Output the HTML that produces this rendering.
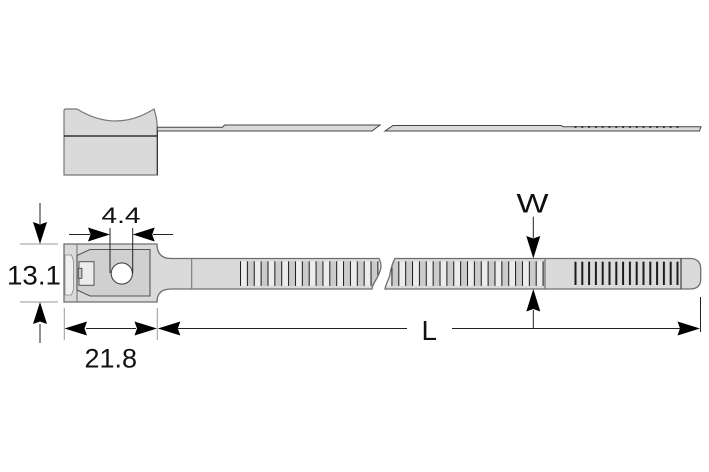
<!DOCTYPE html>
<html><head><meta charset="utf-8"><style>
html,body{margin:0;padding:0;background:#fff;}
svg{display:block;}
text{font-family:"Liberation Sans",Arial,sans-serif;fill:#111;}
</style></head><body>
<svg width="709" height="472" viewBox="0 0 709 472" xmlns="http://www.w3.org/2000/svg">
<defs>
  <pattern id="teethL" patternUnits="userSpaceOnUse" x="240" y="0" width="13.74" height="472">
    <rect x="0" y="0" width="6.87" height="472" fill="#ececec"/>
    <rect x="6.87" y="0" width="6.87" height="472" fill="#cbcbcb"/>
    <rect x="0" y="0" width="1" height="472" fill="#1a1a1a"/>
    <rect x="6.87" y="0" width="1" height="472" fill="#1a1a1a"/>
  </pattern>
  <pattern id="teethR" patternUnits="userSpaceOnUse" x="398.3" y="0" width="13.74" height="472">
    <rect x="0" y="0" width="6.87" height="472" fill="#ececec"/>
    <rect x="6.87" y="0" width="6.87" height="472" fill="#cbcbcb"/>
    <rect x="0" y="0" width="1" height="472" fill="#1a1a1a"/>
    <rect x="6.87" y="0" width="1" height="472" fill="#1a1a1a"/>
  </pattern>
  <pattern id="slits" patternUnits="userSpaceOnUse" x="574.5" y="0" width="6.8" height="472">
    <rect x="0" y="0" width="2" height="472" fill="#1a1a1a"/>
  </pattern>
  <clipPath id="clipL">
    <path d="M64,244 L157,244 Q157,258.5 171,258.5 L379,258.5 C383,266 380,272 377,278 C374,283 372,286 372,289 L171,289 Q157,289 157,302 L64,302 Z"/>
  </clipPath>
  <clipPath id="clipR">
    <path d="M395,258.5 L690,258.5 Q700.7,258.5 700.7,269 L700.7,279 Q700.7,289 690,289 L385,289 C386,283 389,280 390,274 C391,268 393,262 395,258.5 Z"/>
  </clipPath>
</defs>

<!-- ===== TOP VIEW ===== -->
<path d="M64,111 Q64,109 66,109 L77,109 Q116,133 154,109 Q157,118 157.3,127 L157.3,175 L64,175 Z" fill="#dadada" stroke="#777" stroke-width="1.2"/>
<line x1="64" y1="136" x2="157.3" y2="136" stroke="#111" stroke-width="1.2"/>
<line x1="157.3" y1="127" x2="157.3" y2="175" stroke="#222" stroke-width="1"/>
<path d="M157.3,127.3 L222.5,127.3 L224.5,125 L380,125 L372,131 L157.3,131 Z" fill="#dadada" stroke="#444" stroke-width="1"/>
<path d="M385,131 L393,125.5 L561,125.5 L563.5,126.7 L701,126.7 L699.5,131 Z" fill="#dadada" stroke="#444" stroke-width="1"/>
<rect x="574.5" y="126.2" width="104" height="1.6" fill="url(#slits)"/>

<!-- ===== MAIN VIEW ===== -->
<!-- left piece fill -->
<path d="M64,244 L157,244 Q157,258.5 171,258.5 L379,258.5 C383,266 380,272 377,278 C374,283 372,286 372,289 L171,289 Q157,289 157,302 L64,302 Z" fill="#dadada"/>
<rect x="240" y="261.3" width="145" height="24.6" fill="url(#teethL)" clip-path="url(#clipL)"/>
<path d="M64,244 L157,244 Q157,258.5 171,258.5 L379,258.5 C383,266 380,272 377,278 C374,283 372,286 372,289 L171,289 Q157,289 157,302 L64,302 Z" fill="none" stroke="#6f6f6f" stroke-width="1.3"/>
<line x1="191.7" y1="258.5" x2="191.7" y2="289" stroke="#777" stroke-width="1.1"/>

<!-- right piece -->
<path d="M395,258.5 L690,258.5 Q700.7,258.5 700.7,269 L700.7,279 Q700.7,289 690,289 L385,289 C386,283 389,280 390,274 C391,268 393,262 395,258.5 Z" fill="#dadada"/>
<rect x="384" y="261.3" width="161" height="24.6" fill="url(#teethR)" clip-path="url(#clipR)"/>
<rect x="574.5" y="261.7" width="104" height="23.3" fill="url(#slits)"/>
<path d="M395,258.5 L690,258.5 Q700.7,258.5 700.7,269 L700.7,279 Q700.7,289 690,289 L385,289 C386,283 389,280 390,274 C391,268 393,262 395,258.5 Z" fill="none" stroke="#6f6f6f" stroke-width="1.3"/>
<line x1="545" y1="258.5" x2="545" y2="289" stroke="#777" stroke-width="1.2"/>
<line x1="681" y1="258.5" x2="681" y2="289" stroke="#333" stroke-width="1.1"/>

<!-- head details -->
<line x1="77" y1="244" x2="77" y2="302" stroke="#777" stroke-width="1.1"/>
<path d="M65,255 L71.5,255 L73.5,261 L73.5,289 L71.5,295 L65,295 Z" fill="#efefef" stroke="#888" stroke-width="0.8"/>
<path d="M77,255.5 L90,249.5 L150,249.5 L150,296 L90,296 L77,290 Z" fill="#d0d0d0" stroke="#555" stroke-width="1.1"/>
<rect x="79" y="261.7" width="15" height="23.6" fill="#ececec" stroke="#555" stroke-width="1"/>
<rect x="78.3" y="268.3" width="3.6" height="10" fill="#c8c8c8" stroke="#444" stroke-width="0.9"/>
<circle cx="121.8" cy="273.5" r="10.6" fill="#fff" stroke="#444" stroke-width="1.1"/>

<!-- ===== DIMENSIONS ===== -->
<g stroke="#999" stroke-width="1">
  <line x1="20" y1="244" x2="58" y2="244"/>
  <line x1="20" y1="302" x2="58" y2="302"/>
  <line x1="64.3" y1="308" x2="64.3" y2="340"/>
  <line x1="157.3" y1="308" x2="157.3" y2="340"/>
</g>
<g stroke="#222" stroke-width="1">
  <line x1="700.5" y1="297" x2="700.5" y2="332"/>
  <!-- 13.1 -->
  <line x1="40" y1="203" x2="40" y2="224"/>
  <line x1="40" y1="324" x2="40" y2="343"/>
  <!-- 4.4 -->
  <line x1="110" y1="228" x2="110" y2="273"/>
  <line x1="132.7" y1="228" x2="132.7" y2="273"/>
  <line x1="69" y1="234.5" x2="90" y2="234.5"/>
  <line x1="153" y1="234.5" x2="173" y2="234.5"/>
  <!-- 21.8 -->
  <line x1="86" y1="328.5" x2="136" y2="328.5"/>
  <!-- L -->
  <line x1="178" y1="328.5" x2="407" y2="328.5"/>
  <line x1="452" y1="328.5" x2="680" y2="328.5"/>
  <!-- W -->
  <line x1="533.3" y1="216.7" x2="533.3" y2="238"/>
  <line x1="533.3" y1="310" x2="533.3" y2="329"/>
</g>
<g fill="#000">
  <!-- 13.1 down arrow tip (40,244) -->
  <path d="M40,244 L33,222 L40,224.5 L47,222 Z"/>
  <!-- 13.1 up arrow tip (40,302) -->
  <path d="M40,302 L33,324 L40,321.5 L47,324 Z"/>
  <!-- 4.4 right-pointing tip (110,234.5) -->
  <path d="M110,234.5 L88,227.5 L90.5,234.5 L88,241.5 Z"/>
  <!-- 4.4 left-pointing tip (132.7,234.5) -->
  <path d="M132.7,234.5 L154.7,227.5 L152.2,234.5 L154.7,241.5 Z"/>
  <!-- 21.8 left tip (64.5,328.5) -->
  <path d="M64.5,328.5 L87,321.5 L84.5,328.5 L87,335.5 Z"/>
  <!-- 21.8 right tip (157,328.5) -->
  <path d="M157,328.5 L134.5,321.5 L137,328.5 L134.5,335.5 Z"/>
  <!-- L left tip (157.8,328.5) -->
  <path d="M157.8,328.5 L180.3,321.5 L177.8,328.5 L180.3,335.5 Z"/>
  <!-- L right tip (700,328.5) -->
  <path d="M700,328.5 L677.5,321.5 L680,328.5 L677.5,335.5 Z"/>
  <!-- W down tip (533.3,258.5) -->
  <path d="M533.3,258.5 L526.3,236 L533.3,238.5 L540.3,236 Z"/>
  <!-- W up tip (533.3,289) -->
  <path d="M533.3,289 L526.3,311.5 L533.3,309 L540.3,311.5 Z"/>
</g>

<!-- labels -->
<text x="7" y="284.5" font-size="27" textLength="54" lengthAdjust="spacingAndGlyphs">13.1</text>
<text x="101.5" y="223" font-size="22" textLength="39" lengthAdjust="spacingAndGlyphs">4.4</text>
<text x="84.5" y="367.5" font-size="27" textLength="52.5" lengthAdjust="spacingAndGlyphs">21.8</text>
<text x="516.5" y="212.3" font-size="26.5" textLength="32" lengthAdjust="spacingAndGlyphs">W</text>
<text x="421.5" y="340" font-size="27.5" textLength="15.5" lengthAdjust="spacingAndGlyphs">L</text>
</svg>
</body></html>
